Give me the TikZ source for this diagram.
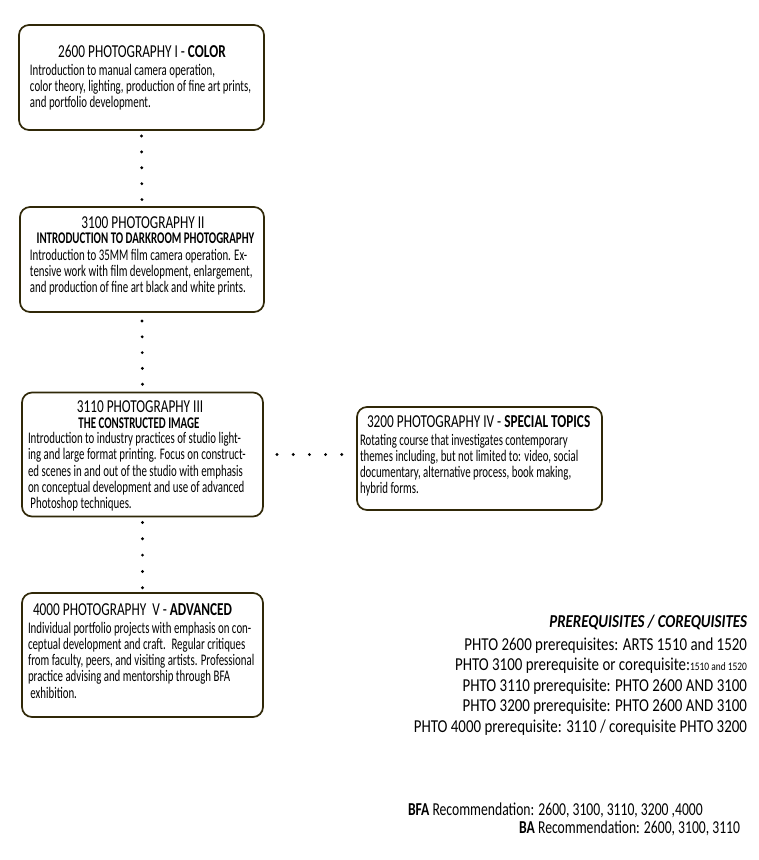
\documentclass[tikz,border=0pt]{standalone}
\usepackage{fontspec}
\setmainfont[FakeStretch=0.75]{Carlito}
\newfontfamily\bodyfam[FakeStretch=0.67]{Carlito}
\newfontfamily\titlefam[FakeStretch=0.73]{Carlito}
\newfontfamily\prfam[FakeStretch=0.82]{Carlito}
\newfontfamily\recfam[FakeStretch=0.75]{Carlito}
\definecolor{boxedge}{RGB}{48,40,8}
\newcommand\ttlf{\titlefam\fontsize{18.2}{20}\selectfont}
\newcommand\subf{\bodyfam\fontsize{16.3}{18}\selectfont\bfseries}
\newcommand\bdyf{\bodyfam\fontsize{16.2}{16.3}\selectfont}
\newcommand\prf{\prfam\fontsize{18.2}{20}\selectfont}
\newcommand\rcf{\recfam\fontsize{18.2}{20}\selectfont}
\newcommand\blines[1]{\vtop{\baselineskip=16.3pt\relax #1}}
\tikzset{
  box/.style={draw=boxedge, line width=1.7pt, rounded corners=10pt, fill=white, inner sep=0pt, outer sep=0pt},
  dotline/.style={line width=3.2pt, line cap=round, dash pattern=on 0pt off #1, black},
  dotline/.default=15.8pt,
  txt/.style={inner sep=0pt, outer sep=0pt, align=left},
}
\begin{document}
\begin{tikzpicture}[x=1pt,y=-1pt]
\useasboundingbox[fill=white] (0,0) rectangle (759,860);
% boxes
\node[box, minimum width=245pt, minimum height=105pt] (b1) at (141.5,77.5) {};
\node[box, minimum width=244pt, minimum height=105pt] (b2) at (142,259.5) {};
\node[box, minimum width=241pt, minimum height=124pt] (b3) at (142.5,454.5) {};
\node[box, minimum width=245pt, minimum height=103pt] (b4) at (479.5,458.5) {};
\node[box, minimum width=241pt, minimum height=124pt] (b5) at (142.5,655) {};
% box 1
\node[txt, anchor=base] (t1) at (142,57) {\ttlf 2600 PHOTOGRAPHY I - \textbf{COLOR}};
\node[txt, anchor=base west] (d1) at (30,75) {\bdyf\blines{%
\hbox{Introduction to manual camera operation,}
\hbox{color theory, lighting, production of fine art prints,}
\hbox{and portfolio development.}}};
% box 2
\node[txt, anchor=base] (t2) at (143,228.5) {\ttlf 3100 PHOTOGRAPHY II};
\node[txt, anchor=base] (s2) at (145.5,243.5) {\subf INTRODUCTION TO DARKROOM PHOTOGRAPHY};
\node[txt, anchor=base west] (d2) at (30,260) {\bdyf\blines{%
\hbox{Introduction to 35MM film camera operation. Ex-}
\hbox{tensive work with film development, enlargement,}
\hbox{and production of fine art black and white prints.}}};
% box 3
\node[txt, anchor=base] (t3) at (140,412) {\ttlf 3110 PHOTOGRAPHY III};
\node[txt, anchor=base] (s3) at (139,428) {\subf THE CONSTRUCTED IMAGE};
\node[txt, anchor=base west] (d3) at (28,443.5) {\bdyf\blines{%
\hbox{Introduction to industry practices of studio light-}
\hbox{ing and large format printing. Focus on construct-}
\hbox{ed scenes in and out of the studio with emphasis}
\hbox{on conceptual development and use of advanced}
\hbox{\ Photoshop techniques.}}};
% box 4
\node[txt, anchor=base west] (t4) at (367,427) {\ttlf 3200 PHOTOGRAPHY IV - \textbf{SPECIAL TOPICS}};
\node[txt, anchor=base west] (d4) at (360,445) {\bdyf\blines{%
\hbox{Rotating course that investigates contemporary}
\hbox{themes including, but not limited to: video, social}
\hbox{documentary, alternative process, book making,}
\hbox{hybrid forms.}}};
% box 5
\node[txt, anchor=base west] (t5) at (33,615) {\ttlf 4000 PHOTOGRAPHY \ V - \textbf{ADVANCED}};
\node[txt, anchor=base west] (d5) at (28,633) {\bdyf\blines{%
\hbox{Individual portfolio projects with emphasis on con-}
\hbox{ceptual development and craft. \ Regular critiques}
\hbox{from faculty, peers, and visiting artists. Professional}
\hbox{practice advising and mentorship through BFA}
\hbox{\ exhibition.}}};
% dotted connectors
\draw[dotline=15.9pt, shorten <=6pt, shorten >=7pt] (b1.south) -- (b2.north);
\draw[dotline=15.8pt, shorten <=9pt, shorten >=8pt] (b2.south) -- (b3.north);
\draw[dotline=16.3pt, shorten <=6pt, shorten >=5pt] (b3.south) -- (b5.north);
\draw[dotline=16.2pt, shorten <=14pt, shorten >=15pt] (b3.east) -- (b3.east -| b4.west);
% prerequisites
\node[txt, anchor=base east] (ph) at (747,627) {\prf\bfseries\itshape PREREQUISITES / COREQUISITES};
\node[txt, anchor=base east] (pl) at (747,650) {\prf\vtop{\baselineskip=20.5pt\halign{\hfil#\cr
PHTO 2600 prerequisites: ARTS 1510 and 1520\cr
PHTO 3100 prerequisite or corequisite:{\fontsize{11.5}{14}\selectfont 1510 and 1520}\cr
PHTO 3110 prerequisite: PHTO 2600 AND 3100\cr
PHTO 3200 prerequisite: PHTO 2600 AND 3100\cr
PHTO 4000 prerequisite: 3110 / corequisite PHTO 3200\cr}}};
% recommendations
\node[txt, anchor=base west] (bfa) at (408,815) {\rcf\textbf{BFA} Recommendation: 2600, 3100, 3110, 3200 ,4000};
\node[txt, anchor=base east] (ba) at (740,833) {\rcf\textbf{BA} Recommendation: 2600, 3100, 3110};
\end{tikzpicture}
\end{document}
